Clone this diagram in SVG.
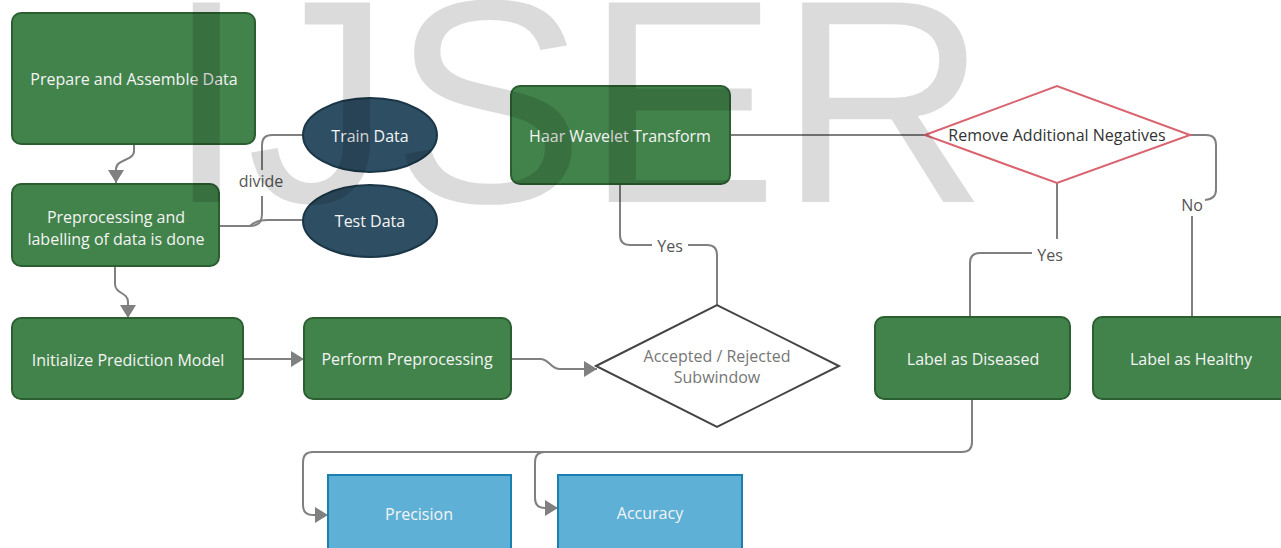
<svg xmlns="http://www.w3.org/2000/svg" width="1281" height="548" viewBox="0 0 1281 548">
<style>
.g{fill:#42834b;stroke:#2b5e31;stroke-width:2}
.e{fill:#2e4f63;stroke:#1b3647;stroke-width:2}
.b{fill:#5fb0d6;stroke:#1b7fb0;stroke-width:2}
.t{font-family:"Open Sans","Noto Sans",sans-serif;font-size:16px;text-anchor:middle;dominant-baseline:central}
.w{fill:#f4f4f4}
.c{fill:none;stroke:#808080;stroke-width:2}
.l{fill:#555}
</style>
<defs>
<marker id="ah" markerUnits="userSpaceOnUse" markerWidth="13" markerHeight="16" refX="13" refY="8" orient="auto">
<path d="M0,0 L13,8 L0,16 z" fill="#808080"/>
</marker>
</defs>
<rect width="1281" height="548" fill="#fff"/>
<g id="connectors">
<path class="c" d="M134,144 V151 C134,161 116,159 116,169 V183" marker-end="url(#ah)"/>
<path class="c" d="M115,266 V284 C115,294 128,292 128,302 V318" marker-end="url(#ah)"/>
<path class="c" d="M219,226 H250 Q262,226 262,214 V196"/>
<path class="c" d="M262,170 V145 Q262,135 272,135 H304"/>
<path class="c" d="M250,226 Q256,220 268,220 H304"/>
<path class="c" d="M243,359 H304" marker-end="url(#ah)"/>
<path class="c" d="M511,359 H540 C550,359 550,369 560,369 H597" marker-end="url(#ah)"/>
<path class="c" d="M620,184 V235 Q620,245 630,245 H652"/>
<path class="c" d="M688,245 H707 Q717,245 717,255 V305"/>
<path class="c" d="M730,135 H925"/>
<path class="c" d="M1057,183 V239"/>
<path class="c" d="M1032,253 H980 Q970,253 970,263 V318"/>
<path class="c" d="M1190,135 H1206 Q1216,135 1216,145 V190 Q1216,199 1205,200"/>
<path class="c" d="M1192,216 V318"/>
<path class="c" d="M972,399 V442 Q972,452 962,452 H313 Q303,452 303,462 V505 Q303,515 313,515 H328" marker-end="url(#ah)"/>
<path class="c" d="M545,452 Q535,452 535,462 V498 Q535,508 545,508 H558" marker-end="url(#ah)"/>
<text class="t l" x="261" y="181">divide</text>
<text class="t l" x="670" y="246">Yes</text>
<text class="t l" x="1050" y="255">Yes</text>
<text class="t l" x="1192" y="205">No</text>
</g>
<g id="n-prepare"><rect class="g" x="12" y="13" width="243" height="131" rx="9"/><text class="t w" x="134" y="79">Prepare and Assemble Data</text></g>
<g id="n-preproc"><rect class="g" x="12" y="184" width="207" height="82" rx="9"/><text class="t w" x="116" y="217">Preprocessing and</text><text class="t w" x="116" y="239">labelling of data is done</text></g>
<g id="n-train"><ellipse class="e" cx="370" cy="135" rx="67" ry="37"/><text class="t w" x="370" y="136">Train Data</text></g>
<g id="n-test"><ellipse class="e" cx="370" cy="221" rx="67" ry="36"/><text class="t w" x="370" y="221">Test Data</text></g>
<g id="n-haar"><rect class="g" x="511" y="86" width="219" height="98" rx="9"/><text class="t w" x="620" y="136">Haar Wavelet Transform</text></g>
<g id="n-init"><rect class="g" x="12" y="318" width="231" height="81" rx="9"/><text class="t w" x="128" y="360">Initialize Prediction Model</text></g>
<g id="n-perform"><rect class="g" x="304" y="318" width="207" height="81" rx="9"/><text class="t w" x="407" y="359">Perform Preprocessing</text></g>
<g id="n-accepted"><polygon points="596,366 717,305 839,366 717,427" fill="#fff" stroke="#444" stroke-width="2"/><text class="t" fill="#777" x="717" y="356">Accepted / Rejected</text><text class="t" fill="#777" x="717" y="377">Subwindow</text></g>
<g id="n-remove"><polygon points="925,135 1057,86 1190,135 1057,183" fill="#fff" stroke="#d9646f" stroke-width="2"/><text class="t" fill="#333" x="1057" y="135">Remove Additional Negatives</text></g>
<g id="n-diseased"><rect class="g" x="875" y="317" width="195" height="82" rx="9"/><text class="t w" x="973" y="359">Label as Diseased</text></g>
<g id="n-healthy"><rect class="g" x="1093" y="317" width="196" height="82" rx="9"/><text class="t w" x="1191" y="359">Label as Healthy</text></g>
<g id="n-precision"><rect class="b" x="328" y="475" width="183" height="90"/><text class="t w" x="419" y="514">Precision</text></g>
<g id="n-accuracy"><rect class="b" x="558" y="475" width="184" height="90"/><text class="t w" x="650" y="513">Accuracy</text></g>
<g id="watermark"><text x="166" y="202" font-family="'Liberation Sans',Arial,sans-serif" font-size="290" fill="#000" fill-opacity="0.14">IJSER</text></g>
</svg>
